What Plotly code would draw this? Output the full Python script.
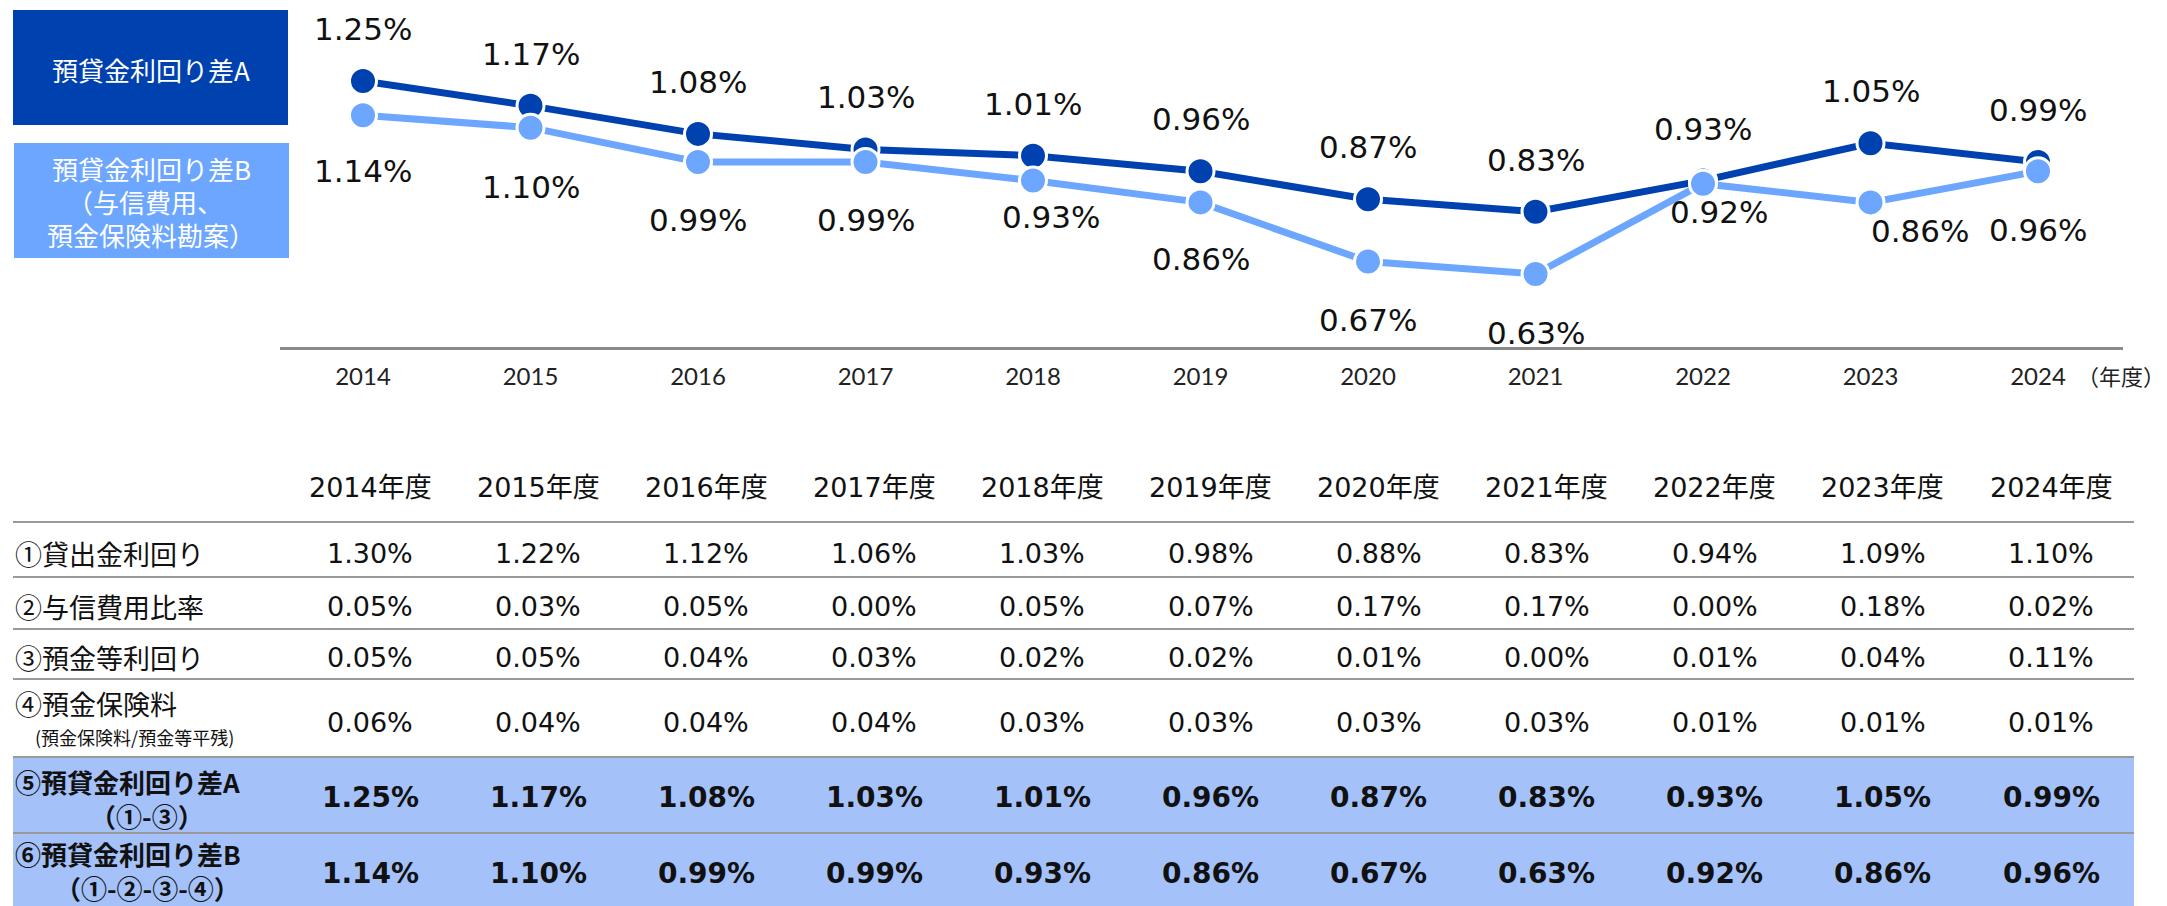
import plotly.graph_objects as go

# ---- data ----
years = ["2014", "2015", "2016", "2017", "2018", "2019", "2020", "2021", "2022", "2023", "2024"]
spread_a = [1.25, 1.17, 1.08, 1.03, 1.01, 0.96, 0.87, 0.83, 0.93, 1.05, 0.99]   # ⑤ = ① - ③
spread_b = [1.14, 1.10, 0.99, 0.99, 0.93, 0.86, 0.67, 0.63, 0.92, 0.86, 0.96]   # ⑥ = ① - ② - ③ - ④
loan_yield = [1.30, 1.22, 1.12, 1.06, 1.03, 0.98, 0.88, 0.83, 0.94, 1.09, 1.10]
credit_cost = [0.05, 0.03, 0.05, 0.00, 0.05, 0.07, 0.17, 0.17, 0.00, 0.18, 0.02]
deposit_yield = [0.05, 0.05, 0.04, 0.03, 0.02, 0.02, 0.01, 0.00, 0.01, 0.04, 0.11]
deposit_insurance = [0.06, 0.04, 0.04, 0.04, 0.03, 0.03, 0.03, 0.03, 0.01, 0.01, 0.01]

# ---- style ----
W, H = 2167, 906
DARK = "#0041B0"
LIGHT = "#6CA6FF"
ROW_FILL = "#A4C2F9"
GRID = "#999999"
NUM_FONT = "DejaVu Sans, Noto Sans CJK JP"
JP_FONT = "Noto Sans CJK JP, Noto Sans"

# label offsets (pixels) for the point values
dy_a = [52] * 11
dy_b = [-56, -59, -58, -58, -36, -57, -58, -59, -28, -29, -59]
dx_b = [0, 0, 0, 0, 18, 0, 0, 0, 16, 49, 0]


def px(x):
    return x / W


def py(y):
    return 1 - y / H


fig = go.Figure()

for vals, color in ((spread_a, DARK), (spread_b, LIGHT)):
    fig.add_trace(go.Scatter(
        x=years, y=vals, mode="lines+markers",
        line=dict(color=color, width=7),
        marker=dict(color=color, size=27, line=dict(color="white", width=3)),
        hoverinfo="skip", showlegend=False,
        xaxis="x", yaxis="y",
    ))

ann = []
# category axes take annotation positions as category indices
for i, yr in enumerate(years):
    ann.append(dict(x=i, y=spread_a[i], xref="x", yref="y", text=f"{spread_a[i]:.2f}%",
                    showarrow=False, yshift=dy_a[i], xanchor="center", yanchor="middle",
                    font=dict(family=NUM_FONT, size=31, color="#111111")))
    ann.append(dict(x=i, y=spread_b[i], xref="x", yref="y", text=f"{spread_b[i]:.2f}%",
                    showarrow=False, yshift=dy_b[i], xshift=dx_b[i],
                    xanchor="center", yanchor="middle",
                    font=dict(family=NUM_FONT, size=31, color="#111111")))

ann.append(dict(x=1, y=py(375), xref="paper", yref="paper", xanchor="right",
                text="（年度）", showarrow=False,
                font=dict(family=JP_FONT, size=22, color="#222222")))

# ---- series boxes ----
shapes = [
    dict(type="rect", xref="paper", yref="paper", x0=px(13), x1=px(288), y0=py(125), y1=py(10),
         fillcolor=DARK, line=dict(width=0)),
    dict(type="rect", xref="paper", yref="paper", x0=px(14), x1=px(289), y0=py(258), y1=py(143),
         fillcolor=LIGHT, line=dict(width=0)),
]
box_font = dict(family=JP_FONT, size=26, color="white")
ann.append(dict(x=px(151), y=py(69), xref="paper", yref="paper", text="預貸金利回り差A",
                xanchor="center", yanchor="middle", showarrow=False, font=box_font))
for t, yy, xx in (("預貸金利回り差B", 169, 151), ("（与信費用、", 201, 145), ("預金保険料勘案）", 234, 151)):
    ann.append(dict(x=px(xx), y=py(yy), xref="paper", yref="paper", text=t,
                    xanchor="center", yanchor="middle", showarrow=False, font=box_font))

# ---- table ----
row_lines = [522, 577, 629, 679, 757, 833]
TL, TR = px(13), px(2134)
shapes.append(dict(type="rect", xref="paper", yref="y2", x0=TL, x1=TR, y0=757, y1=906,
                   fillcolor=ROW_FILL, line=dict(width=0), layer="below"))
for yl in row_lines:
    shapes.append(dict(type="line", xref="paper", yref="y2", x0=TL, x1=TR, y0=yl, y1=yl,
                       line=dict(color=GRID, width=2)))

rows = [loan_yield, credit_cost, deposit_yield, deposit_insurance, spread_a, spread_b]
row_y = [553, 606, 657, 722, 797, 873]
row_bold = [False, False, False, False, True, True]

for i, yr in enumerate(years):
    ann.append(dict(x=i, y=487, xref="x2", yref="y2", text=f"{yr}年度", showarrow=False,
                    xanchor="center", yanchor="middle",
                    font=dict(family=NUM_FONT, size=27, color="#111111")))
    for vals, yy, bold in zip(rows, row_y, row_bold):
        txt = f"{vals[i]:.2f}%"
        ann.append(dict(x=i, y=yy, xref="x2", yref="y2",
                        text=f"<b>{txt}</b>" if bold else txt, showarrow=False,
                        xanchor="center", yanchor="middle",
                        font=dict(family=NUM_FONT, size=28 if bold else 27, color="#111111")))

label_font = dict(family=JP_FONT, size=27, color="#111111")
for t, yy in (("①貸出金利回り", 553), ("②与信費用比率", 606), ("③預金等利回り", 657),
              ("④預金保険料", 703)):
    ann.append(dict(x=TL, y=yy, xref="paper", yref="y2", xanchor="left", yanchor="middle",
                    text=t, showarrow=False, font=label_font))
ann.append(dict(x=px(33), y=737, xref="paper", yref="y2", xanchor="left", yanchor="middle",
                text="(預金保険料/預金等平残)", showarrow=False,
                font=dict(family=JP_FONT, size=18, color="#111111")))
# two-line bold labels; second line centred a little right of the first
for t, yy in (("<b>⑤預貸金利回り差A<br>\u3000\u3000（①-③）</b>", 798),
              ("<b>⑥預貸金利回り差B<br>\u3000\u2002（①-②-③-④）</b>", 870)):
    ann.append(dict(x=TL, y=yy, xref="paper", yref="y2", xanchor="left", yanchor="middle",
                    align="center", text=t, showarrow=False,
                    font=dict(family=JP_FONT, size=26, color="#111111")))

x0_idx = (280 - 363) / 167.5
x1_idx = (2123 - 363) / 167.5

fig.update_layout(
    width=W, height=H,
    margin=dict(l=0, r=0, t=0, b=0),
    paper_bgcolor="white", plot_bgcolor="white",
    showlegend=False,
    xaxis=dict(domain=[px(280), px(2123)], type="category", range=[x0_idx, x1_idx],
               showline=True, linecolor="#8A8A8A", linewidth=3, showgrid=False, zeroline=False,
               ticks="", ticklabelstandoff=6,
               tickfont=dict(family="Lato, Noto Sans", size=24, color="#222222"),
               anchor="y", fixedrange=True),
    yaxis=dict(domain=[py(347), 1], range=[0.3955, 1.510], visible=False, anchor="x"),
    xaxis2=dict(domain=[0, 1], type="category", categoryarray=years,
                range=[-370 / 168.1, (W - 370) / 168.1], visible=False, anchor="y2"),
    yaxis2=dict(domain=[0, py(440)], range=[906, 440], visible=False, anchor="x2"),
    shapes=shapes,
    annotations=ann,
)

fig.write_html("out.html")
